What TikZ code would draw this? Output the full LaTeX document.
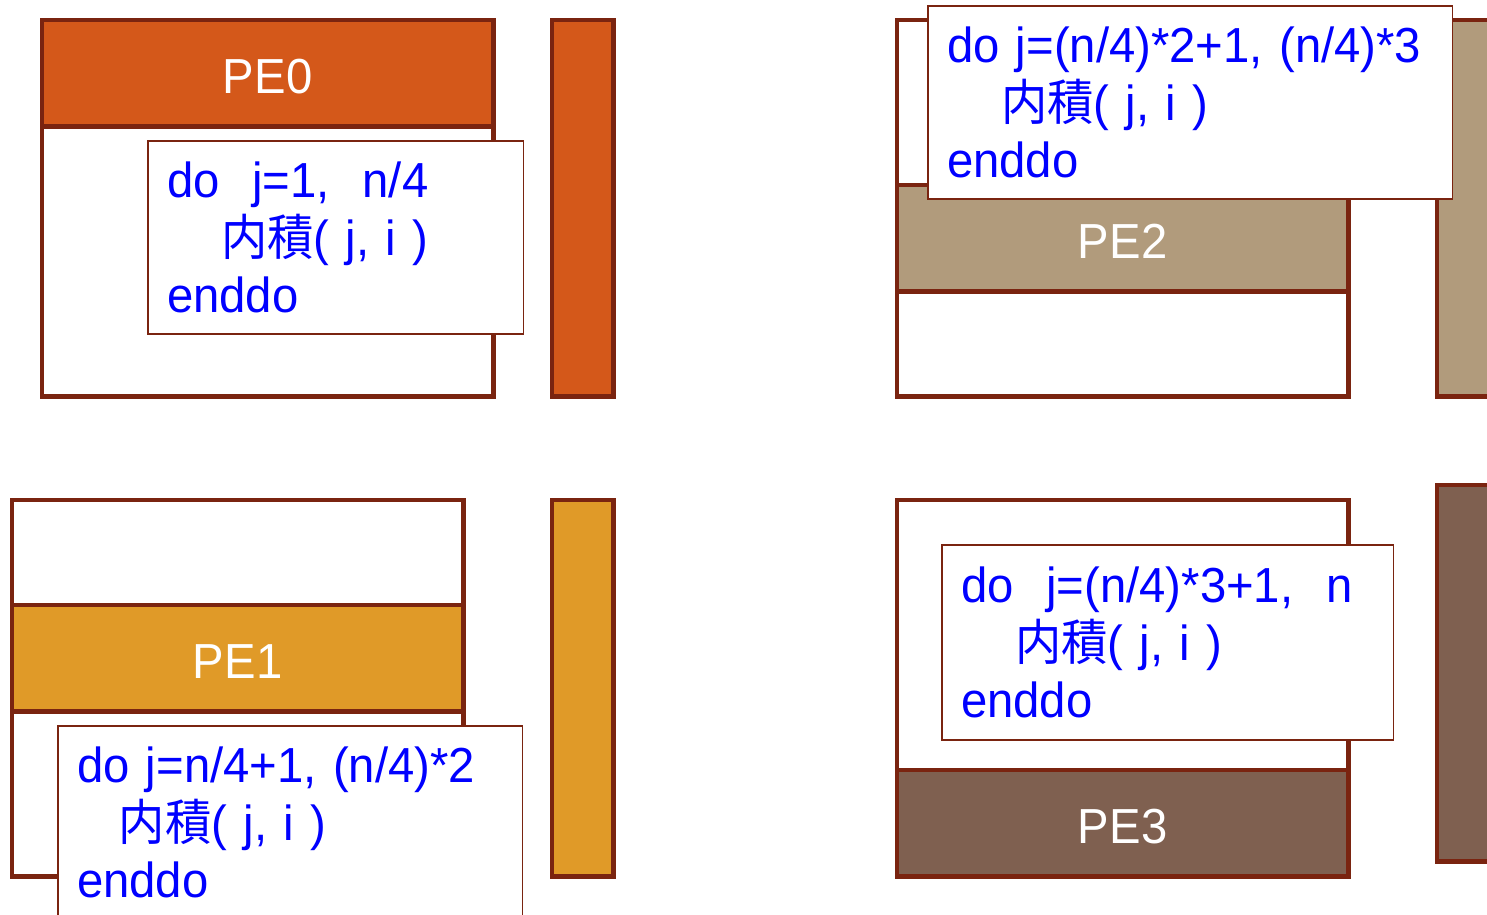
\documentclass[tikz,border=0pt]{standalone}
\usepackage{fontspec}
\setmainfont{Liberation Sans}[FakeStretch=0.96]
\newfontfamily\cjk{Noto Sans CJK JP}[FakeStretch=0.94]

\definecolor{frame}{HTML}{7A2410}
\definecolor{pezero}{HTML}{D4581A}
\definecolor{peone}{HTML}{E09A28}
\definecolor{petwo}{HTML}{B19B7C}
\definecolor{pethree}{HTML}{7F6050}

\newcommand{\naiseki}[1][1.1em]{\hspace*{#1}{\cjk 内積}( j, i )}

\begin{document}
\begin{tikzpicture}[x=0.01cm, y=-0.01cm, outer sep=0pt]
    \tikzset{
        panel/.style={draw=frame, line width=1.4pt, fill=white, anchor=north west,
                      minimum width=4.51cm, minimum height=3.76cm, inner sep=0pt},
        band/.style={draw=frame, line width=1.4pt, anchor=north west, text=white,
                     minimum width=4.51cm, minimum height=1.06cm, inner sep=0pt,
                     text height=0.41cm, text depth=0pt,
                     font=\fontsize{14}{16.3}\selectfont},
        vec/.style={draw=frame, line width=1.4pt, anchor=north west,
                    minimum width=0.61cm, minimum height=3.76cm, inner sep=0pt},
        code/.style={draw=frame, line width=0.4pt, fill=white, anchor=north west,
                     text=blue, align=left, inner xsep=0.19cm, inner ysep=0pt,
                     font=\fontsize{14}{16.3}\selectfont}
    }
    \useasboundingbox (0,0) rectangle (1487,914);
    \clip (0,0) rectangle (1487,914);

    % panels, PE bands and vectors
    \foreach \n/\px/\py/\by/\vx/\vy/\col in {0/42/20/20/552/20/pezero,
                                             1/12/500/605/552/500/peone,
                                             2/897/20/185/1437/20/petwo,
                                             3/897/500/770/1437/485/pethree} {
        \node[panel] (panel\n) at (\px,\py) {};
        \node[band, fill=\col] (band\n) at (\px,\by) {PE\n};
        \node[vec, fill=\col] (vec\n) at (\vx,\vy) {};
    }

    % loops
    \node[code, text width=3.37cm, minimum height=1.93cm] (code0) at (148,141)
        {do\ \ j=1,\ \ n/4\\ \naiseki\\ enddo};
    \node[code, text width=4.26cm, minimum height=1.93cm] (code1) at (58,726)
        {do j=n/4+1, (n/4)*2\\ \naiseki[0.85em]\\ enddo};
    \node[code, text width=4.86cm, minimum height=1.93cm] (code2) at (928,6)
        {do~j=(n/4)*2+1,~(n/4)*3\\ \naiseki\\ enddo};
    \node[code, text width=4.13cm, minimum height=1.95cm] (code3) at (942,545)
        {do\ \ j=(n/4)*3+1,\ \ n\\ \naiseki\\ enddo};
\end{tikzpicture}
\end{document}
